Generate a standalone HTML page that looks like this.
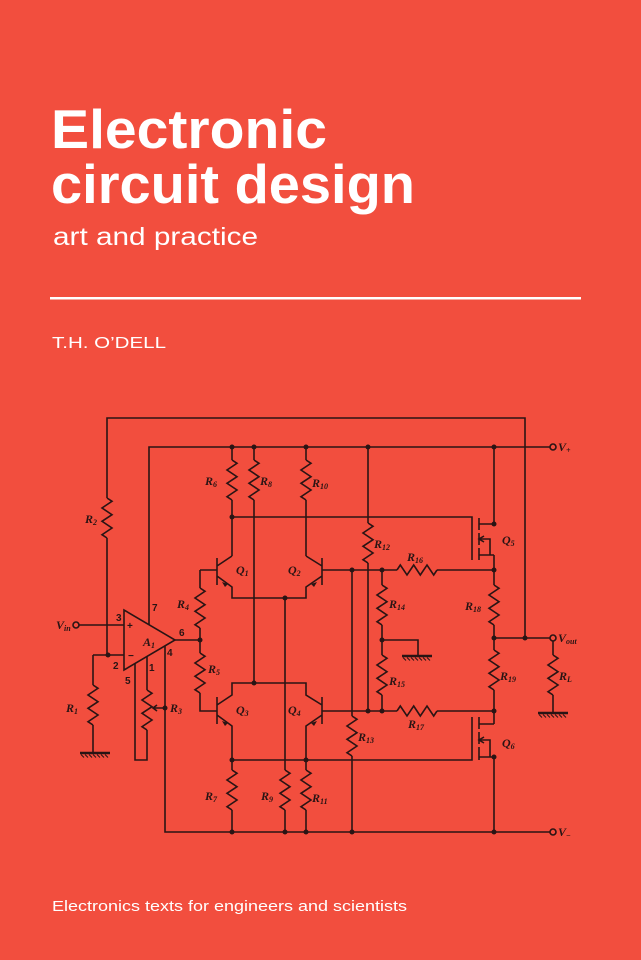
<!DOCTYPE html>
<html><head><meta charset="utf-8"><style>
html,body{margin:0;padding:0;background:#f24e3e;}
svg{display:block}
.t{font-family:"Liberation Sans",sans-serif;fill:#fff}
.l{font-family:"Liberation Serif",serif;font-style:italic;font-weight:bold;font-size:12px;fill:#2a1414}
.l tspan{font-size:8px}
.p{font-family:"Liberation Sans",sans-serif;font-weight:bold;font-size:10px;fill:#2a1414}
</style></head><body>
<svg width="641" height="960" viewBox="0 0 641 960" xmlns="http://www.w3.org/2000/svg">
<rect width="641" height="960" fill="#f24e3e"/>
<text class="t" x="51" y="148" font-size="55" font-weight="bold" textLength="276" lengthAdjust="spacingAndGlyphs">Electronic</text>
<text class="t" x="51" y="203" font-size="55" font-weight="bold" textLength="364" lengthAdjust="spacingAndGlyphs">circuit design</text>
<text class="t" x="53" y="245" font-size="25" textLength="205" lengthAdjust="spacingAndGlyphs">art and practice</text>
<rect x="50" y="297" width="531" height="2.5" fill="#fff"/>
<text class="t" x="52" y="348" font-size="16" textLength="114" lengthAdjust="spacingAndGlyphs">T.H. O’DELL</text>
<text class="t" x="52" y="911" font-size="15" textLength="355" lengthAdjust="spacingAndGlyphs">Electronics texts for engineers and scientists</text>

<defs>
<polyline id="rv" points="0,0 5,3.3 -5,10 5,16.7 -5,23.3 5,30 -5,36.7 0,40" fill="none"/>
<g id="gnd"><line x1="0" y1="0" x2="30" y2="0" stroke-width="2.5"/><path d="M1 1.5l3 3M5 1.5l3 3M9 1.5l3 3M13 1.5l3 3M17 1.5l3 3M21 1.5l3 3M25 1.5l3 3" stroke-width="1"/></g>
</defs>
<g stroke="#2a1414" stroke-width="1.6" fill="none">
<!-- top loop -->
<path d="M107 498V418H525V638"/>
<use href="#rv" x="107" y="498"/>
<path d="M107 538V655"/>
<!-- V+ -->
<path d="M149 625V447H550"/>
<circle cx="553" cy="447" r="3"/>
<path d="M232 447V460M232 500V556"/>
<use href="#rv" x="232" y="460"/>
<path d="M254 447V460M254 500V683"/>
<use href="#rv" x="254" y="460"/>
<path d="M306 447V460M306 500V556"/>
<use href="#rv" x="306" y="460"/>
<path d="M368 447V523M368 563V711"/>
<use href="#rv" x="368" y="523"/>
<path d="M494 447V524M494 555V585M494 625V650M494 690V724M494 757V832"/>
<use href="#rv" x="494" y="585"/>
<use href="#rv" x="494" y="650"/>
<!-- Q5 -->
<path d="M232 517H472V560M479 518V530M479 533V545M479 548V560M479 524H494M479 555H494M479 539H490V555"/>
<path d="M484 536l-5 3 5 3" />
<!-- Q6 -->
<path d="M232 760H472V717M479 717V729M479 732V744M479 747V760M479 724H494M479 757H494M479 740H490V757"/>
<path d="M484 737l-5 3 5 3"/>
<!-- BJTs -->
<path d="M217 558V585M217 566L232 556M217 576L232 587V598H306V587L322 576M322 558V585M322 566L306 556"/>
<path d="M217 697V724M217 705L232 695V683H306V695L322 705M322 697V724M322 715L306 726V760M217 715L232 726V760"/>
<path d="M285 598V770M285 810V832"/>
<use href="#rv" x="285" y="770"/>
<path d="M232 760V770M232 810V832"/>
<use href="#rv" x="232" y="770"/>
<path d="M306 760V770M306 810V832"/>
<use href="#rv" x="306" y="770"/>
<!-- right network -->
<path d="M322 570H397M437 570H494"/>
<use href="#rv" transform="translate(397 570) rotate(-90)"/>
<path d="M322 711H397M437 711H494"/>
<use href="#rv" transform="translate(397 711) rotate(-90)"/>
<path d="M352 570V716M352 756V832"/>
<use href="#rv" x="352" y="716"/>
<path d="M382 570V585M382 625V655M382 695V711M382 640H418V655"/>
<use href="#rv" x="382" y="585"/>
<use href="#rv" x="382" y="655"/>
<!-- Vout -->
<path d="M494 638H550M553 641V655M553 695V712"/>
<circle cx="553" cy="638" r="3"/>
<use href="#rv" x="553" y="655"/>
<!-- V- -->
<path d="M165 646V832H550"/>
<circle cx="553" cy="832" r="3"/>
<!-- opamp -->
<path d="M124 610V670L175 640Z"/>
<path d="M79 625H124M93 655H124M175 640H200M200 640V628M200 570V588H200M200 570H217M200 653V640M200 693V711H217M322 711V711"/>
<use href="#rv" x="200" y="588"/>
<use href="#rv" x="200" y="653"/>
<circle cx="76" cy="625" r="3"/>
<path d="M93 655V685M93 725V752"/>
<use href="#rv" x="93" y="685"/>
<path d="M147 656V690M147 730V760H135V663"/>
<use href="#rv" x="147" y="690"/>
<path d="M165 708H153M157 705l-4 3 4 3"/>
</g>
<g stroke="#2a1414" fill="none">
<use href="#gnd" x="80" y="753"/>
<use href="#gnd" x="402" y="656"/>
<use href="#gnd" x="538" y="713"/>
</g>
<g fill="#2a1414">
<circle cx="232" cy="447" r="2.5"/><circle cx="254" cy="447" r="2.5"/><circle cx="306" cy="447" r="2.5"/><circle cx="368" cy="447" r="2.5"/><circle cx="494" cy="447" r="2.5"/>
<circle cx="232" cy="517" r="2.5"/><circle cx="285" cy="598" r="2.5"/><circle cx="254" cy="683" r="2.5"/>
<circle cx="232" cy="760" r="2.5"/><circle cx="306" cy="760" r="2.5"/>
<circle cx="352" cy="570" r="2.5"/><circle cx="382" cy="570" r="2.5"/><circle cx="494" cy="570" r="2.5"/><circle cx="494" cy="524" r="2.5"/>
<circle cx="382" cy="640" r="2.5"/><circle cx="494" cy="638" r="2.5"/><circle cx="525" cy="638" r="2.5"/>
<circle cx="368" cy="711" r="2.5"/><circle cx="382" cy="711" r="2.5"/><circle cx="494" cy="711" r="2.5"/><circle cx="494" cy="757" r="2.5"/>
<circle cx="232" cy="832" r="2.5"/><circle cx="285" cy="832" r="2.5"/><circle cx="306" cy="832" r="2.5"/><circle cx="352" cy="832" r="2.5"/><circle cx="494" cy="832" r="2.5"/>
<circle cx="108" cy="655" r="2.5"/><circle cx="200" cy="640" r="2.5"/><circle cx="165" cy="708" r="2.5"/>
<path d="M222 582l6 2-3 3z"/><path d="M317 582l-6 2 3 3z"/><path d="M222 721l6 2-3 3z"/><path d="M317 721l-6 2 3 3z"/>
</g>
<text class="l" x="205" y="485">R<tspan dy="2">6</tspan></text>
<text class="l" x="260" y="485">R<tspan dy="2">8</tspan></text>
<text class="l" x="312" y="487">R<tspan dy="2">10</tspan></text>
<text class="l" x="85" y="523">R<tspan dy="2">2</tspan></text>
<text class="l" x="236" y="574">Q<tspan dy="2">1</tspan></text>
<text class="l" x="288" y="574">Q<tspan dy="2">2</tspan></text>
<text class="l" x="374" y="548">R<tspan dy="2">12</tspan></text>
<text class="l" x="407" y="561">R<tspan dy="2">16</tspan></text>
<text class="l" x="389" y="608">R<tspan dy="2">14</tspan></text>
<text class="l" x="465" y="610">R<tspan dy="2">18</tspan></text>
<text class="l" x="389" y="685">R<tspan dy="2">15</tspan></text>
<text class="l" x="500" y="680">R<tspan dy="2">19</tspan></text>
<text class="l" x="559" y="680">R<tspan dy="2">L</tspan></text>
<text class="l" x="408" y="728">R<tspan dy="2">17</tspan></text>
<text class="l" x="502" y="544">Q<tspan dy="2">5</tspan></text>
<text class="l" x="502" y="747">Q<tspan dy="2">6</tspan></text>
<text class="l" x="358" y="741">R<tspan dy="2">13</tspan></text>
<text class="l" x="177" y="608">R<tspan dy="2">4</tspan></text>
<text class="l" x="208" y="673">R<tspan dy="2">5</tspan></text>
<text class="l" x="66" y="712">R<tspan dy="2">1</tspan></text>
<text class="l" x="170" y="712">R<tspan dy="2">3</tspan></text>
<text class="l" x="236" y="714">Q<tspan dy="2">3</tspan></text>
<text class="l" x="288" y="714">Q<tspan dy="2">4</tspan></text>
<text class="l" x="205" y="800">R<tspan dy="2">7</tspan></text>
<text class="l" x="261" y="800">R<tspan dy="2">9</tspan></text>
<text class="l" x="312" y="802">R<tspan dy="2">11</tspan></text>
<text class="l" x="143" y="646">A<tspan dy="2">1</tspan></text>
<text class="l" x="56" y="629">V<tspan dy="2">in</tspan></text>
<text class="l" x="558" y="451">V<tspan dy="2">+</tspan></text>
<text class="l" x="558" y="642">V<tspan dy="2">out</tspan></text>
<text class="l" x="558" y="836">V<tspan dy="2">−</tspan></text>
<text class="p" x="127" y="629">+</text>
<text class="p" x="128" y="659">−</text>
<text class="p" x="116" y="621">3</text>
<text class="p" x="113" y="669">2</text>
<text class="p" x="152" y="611">7</text>
<text class="p" x="179" y="636">6</text>
<text class="p" x="167" y="656">4</text>
<text class="p" x="149" y="671">1</text>
<text class="p" x="125" y="684">5</text>
</svg>
</body></html>
